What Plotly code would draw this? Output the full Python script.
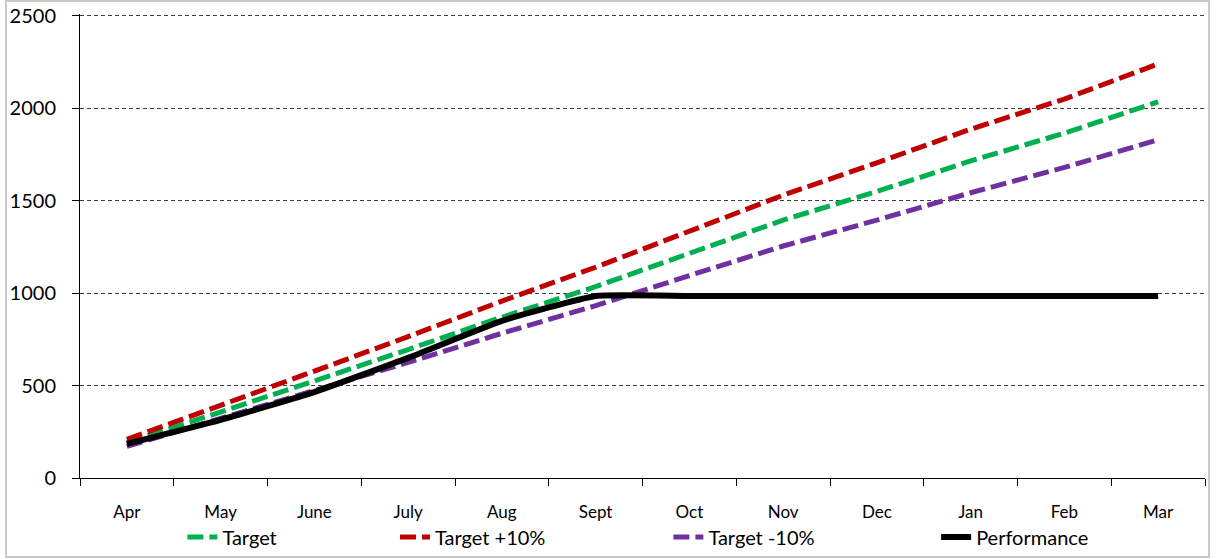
import plotly.graph_objects as go

months = ["Apr", "May", "June", "July", "Aug", "Sept", "Oct", "Nov", "Dec", "Jan", "Feb", "Mar"]
target = [190, 355, 525, 695, 870, 1035, 1215, 1395, 1550, 1715, 1865, 2035]
target_plus = [209, 390, 578, 765, 957, 1140, 1335, 1530, 1705, 1887, 2050, 2240]
target_minus = [171, 320, 473, 625, 783, 932, 1095, 1255, 1395, 1543, 1680, 1830]
performance = [185, 315, 465, 650, 850, 985, 985, 985, 985, 985, 985, 985]

FONT = "Lato"
DASH = "16px,6px"

fig = go.Figure()
fig.add_trace(go.Scatter(x=months, y=target, name="Target", mode="lines", legend="legend",
                         line=dict(color="#00b050", width=5, dash=DASH)))
fig.add_trace(go.Scatter(x=months, y=target_plus, name="Target +10%", mode="lines", legend="legend2",
                         line=dict(color="#c00000", width=5, dash=DASH)))
fig.add_trace(go.Scatter(x=months, y=target_minus, name="Target -10%", mode="lines", legend="legend3",
                         line=dict(color="#7030a0", width=5, dash=DASH)))
fig.add_trace(go.Scatter(x=months, y=performance, name="Performance", mode="lines", legend="legend4",
                         line=dict(color="black", width=6, shape="spline", smoothing=0.4)))

fig.update_xaxes(
    type="category",
    range=[-0.5, 11.5],
    showline=True, linecolor="black", linewidth=1,
    ticks="outside", ticklen=7, tickcolor="black", tickson="boundaries",
    tickfont=dict(family=FONT, size=17, color="black"),
    ticklabelstandoff=19,
    showgrid=False, zeroline=False,
)
# range topped a little above 2500 so the top gridline is not dropped at the edge
fig.update_yaxes(
    range=[0, 2510], tickvals=[0, 500, 1000, 1500, 2000, 2500],
    showline=True, linecolor="black", linewidth=1,
    ticks="outside", ticklen=7, tickcolor="black",
    tickfont=dict(family=FONT, size=20, color="black"),
    ticklabelstandoff=12,
    showgrid=True, gridcolor="#404040", gridwidth=1, griddash="4px,3px",
    zeroline=False,
)


def legend_at(x):
    return dict(
        orientation="h", x=x, xanchor="left", y=-0.127, yanchor="middle",
        font=dict(family=FONT, size=20, color="black"),
        bgcolor="rgba(0,0,0,0)",
    )


fig.update_layout(
    width=1216, height=559,
    margin=dict(l=80, r=11, t=14, b=81, autoexpand=False),
    plot_bgcolor="white", paper_bgcolor="white",
    font=dict(family=FONT, color="black"),
    showlegend=True,
    legend=legend_at(0.091),
    legend2=legend_at(0.280),
    legend3=legend_at(0.523),
    legend4=legend_at(0.761),
    shapes=[dict(type="rect", xref="paper", yref="paper",
                 x0=-0.0658, x1=1.0036, y0=-0.170, y1=1.028,
                 line=dict(color="#c8c8c8", width=2), layer="below")],
)

# drop the default page margin so the figure sits at the window's corner
fig.write_html("out.html", config={"displayModeBar": False},
               post_script="document.body.style.margin = '0';")
